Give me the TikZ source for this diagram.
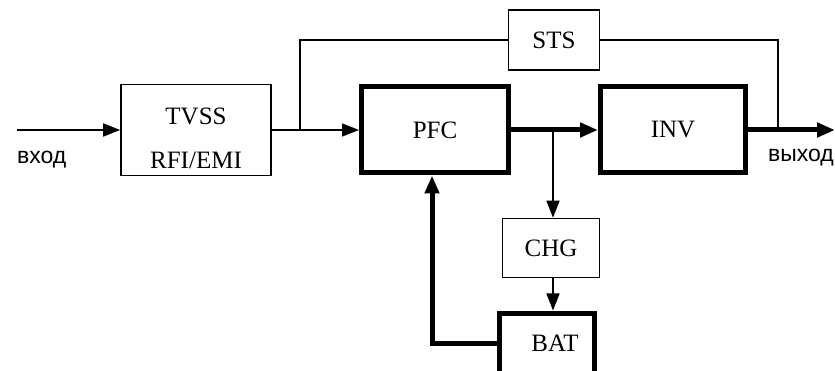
\documentclass[tikz,border=0pt]{standalone}
\usepackage{fontspec}
\setmainfont{Liberation Serif}
\newfontfamily\labelfont{Liberation Sans}
\usetikzlibrary{arrows.meta}

\begin{document}
\begin{tikzpicture}[x=1pt,y=-1pt,
    thinbox/.style={draw,line width=1.6pt,font=\fontsize{25}{29}\selectfont},
    thickbox/.style={draw,line width=5pt,font=\fontsize{25}{29}\selectfont},
    thinline/.style={line width=1.6pt},
    thickline/.style={line width=5pt},
    tip/.style={-{Triangle[length=17pt,width=13pt]}},
    bigtip/.style={-{Triangle[length=18pt,width=14pt]}},
    sig/.style={font=\labelfont\fontsize{23}{26}\selectfont}]
    \useasboundingbox (0,0) rectangle (835,371);
    % blocks
    \node[thinbox,minimum width=150,minimum height=91] (tvss) at (196,130) {};
    \node[thinbox,minimum width=91,minimum height=60] (sts) at (554,40) {STS};
    \node[thickbox,minimum width=147,minimum height=86] (pfc) at (435,130) {PFC};
    \node[thickbox,minimum width=145,minimum height=86] (inv) at (673,130) {INV};
    \node[thinbox,minimum width=97,minimum height=59] (chg) at (551,248) {CHG};
    \node[thickbox,minimum width=95,minimum height=60,
        label={[font=\fontsize{25}{29}\selectfont,xshift=8]center:BAT}] (bat) at (547,343) {};
    \node[font=\fontsize{25}{29}\selectfont,align=center] (tvsstext) at (196,138)
        {TVSS\\[15pt]RFI/EMI};
    \node[sig,anchor=west,inner sep=0pt] (inlabel) at (17,160) {вход};
    \node[sig,anchor=east,inner sep=0pt] (outlabel) at (834,158) {выход};
    \coordinate (input) at (17,130);
    \coordinate (split) at (300,130);
    \coordinate (tap) at (553,130);
    \coordinate (join) at (778,130);
    \coordinate (output) at (835,130);
    % connections
    \draw[thinline,tip] (input) -- (tvss.west);
    \draw[thinline,tip] (tvss.east) -- (pfc.west);
    \draw[thinline] (split) |- (sts.west);
    \draw[thinline] (sts.east) -| (join);
    \draw[thickline,bigtip] (pfc.east) -- (inv.west);
    \draw[thickline,bigtip] (inv.east) -- (output);
    \draw[thinline,tip] (tap) -- (tap |- chg.north);
    \draw[thinline,tip] (tap |- chg.south) -- (tap |- bat.north);
    \draw[thickline,bigtip] (bat.west) -| ([xshift=-3]pfc.south);
\end{tikzpicture}
\end{document}
